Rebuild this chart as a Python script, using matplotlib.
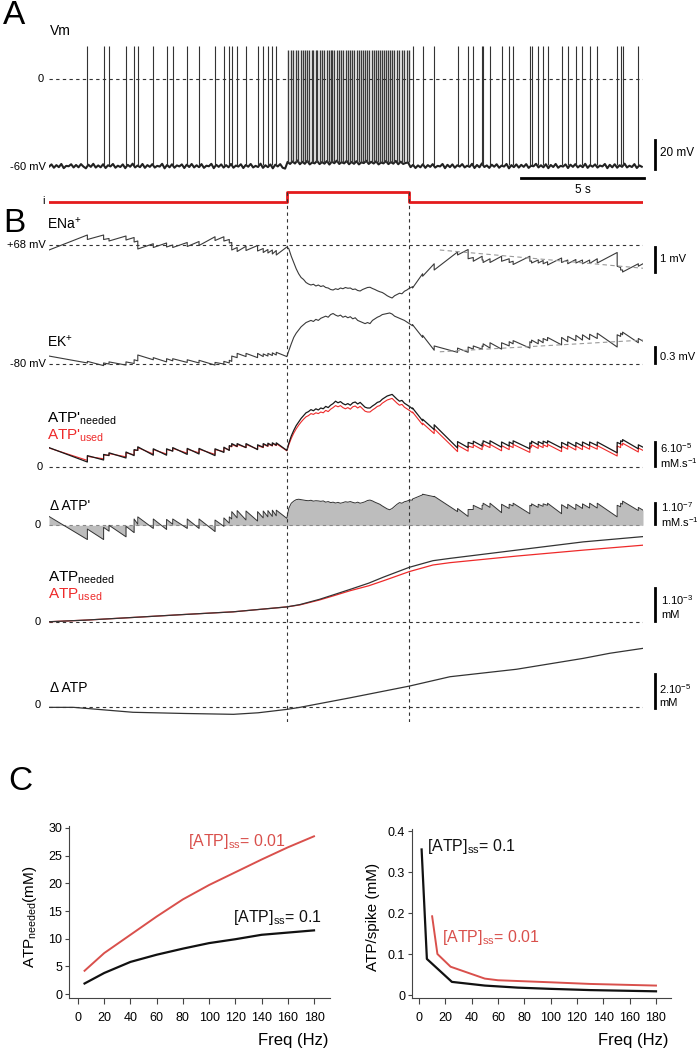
import numpy as np
import matplotlib.pyplot as plt

plt.rcParams['font.family'] = ['Liberation Sans', 'DejaVu Sans']
plt.rcParams['mathtext.fontset'] = 'custom'
plt.rcParams['mathtext.rm'] = 'Liberation Sans'
plt.rcParams['mathtext.it'] = 'Liberation Sans:italic'
plt.rcParams['mathtext.bf'] = 'Liberation Sans:bold'
plt.rcParams['axes.unicode_minus'] = False

# ---------------- data (time in s) ----------------
t_end = 24.15
stim_t = [0, 9.67, 9.67, 14.65, 14.65, 24.15]
stim_i = [0, 0, 1, 1, 0, 0]

# Vm baseline, one sample every 0.1 s (mV)
vm_dt = 0.1
vm_base = [
    -60.5, -58.9, -61.2, -59.4, -60.8, -58.6, -61.5, -59.9, -60.2, -58.8, -61.0, -59.3, -60.9, -58.7, -60.4, -61.6, -59.1, -60.6, -58.5, -61.1,
    -59.6, -60.9, -58.8, -61.4, -59.5, -60.3, -58.6, -61.2, -59.8, -60.7, -58.9, -61.5, -59.2, -60.5, -58.4, -61.0, -59.7, -60.8, -58.6, -61.3,
    -59.4, -60.6, -58.7, -61.1, -59.9, -60.4, -58.5, -61.6, -59.3, -60.9, -58.8, -61.2, -59.6, -60.3, -58.9, -61.4, -59.1, -60.7, -58.6, -61.0,
    -59.5, -60.8, -58.7, -61.3, -59.8, -60.2, -58.5, -61.5, -59.2, -60.6, -58.9, -61.1, -59.4, -60.9, -58.6, -61.2, -59.7, -60.4, -58.8, -61.4,
    -59.3, -60.5, -58.6, -61.0, -59.9, -60.7, -58.4, -61.3, -59.5, -60.8, -58.9, -61.6, -59.1, -60.3, -58.7, -61.2, -61.8, -57.2, -58.6, -56.9,
    -58.3, -56.2, -58.8, -57.1, -58.5, -56.4, -58.9, -57.6, -58.2, -56.5, -58.7, -57.3, -58.4, -56.6, -59.0, -57.0, -58.1, -56.3, -58.6, -57.4,
    -58.2, -56.5, -58.8, -57.2, -58.5, -56.7, -58.9, -57.5, -58.0, -56.4, -58.6, -57.1, -58.3, -56.8, -58.9, -57.6, -58.2, -56.6, -58.7, -57.3,
    -58.4, -56.5, -58.8, -57.0, -58.6, -57.9, -57.6, -60.8, -59.2, -61.4, -59.6, -60.9, -58.8, -61.3, -59.4, -60.6, -58.7, -61.1, -59.9, -60.3,
    -58.6, -61.5, -59.2, -60.8, -58.9, -61.2, -59.5, -60.4, -58.7, -61.0, -59.8, -60.6, -58.5, -61.4, -59.3, -60.9, -58.2, -60.7, -59.6, -61.3,
    -59.1, -60.5, -58.8, -61.2, -59.7, -60.4, -58.6, -61.6, -59.4, -60.8, -58.9, -61.1, -59.2, -60.6, -58.7, -61.3, -59.8, -60.2, -58.5, -61.0,
    -59.5, -60.9, -58.8, -61.5, -59.3, -60.7, -58.6, -61.2, -59.9, -60.4, -58.9, -61.4, -59.1, -60.6, -58.7, -61.0, -59.6, -60.8, -58.5, -61.3,
    -59.4, -60.5, -58.9, -61.1, -59.7, -60.3, -58.6, -61.5, -59.2, -60.9, -58.8, -61.2, -59.5, -60.6, -58.4, -61.0, -59.8, -60.7, -58.7, -61.4,
    -59.6, -60.5,
]

pre_spk_t = [1.56, 2.22, 2.44, 3.13, 3.46, 3.61, 4.24, 4.78, 5.03, 5.62, 6.10, 6.75, 7.11, 7.33, 7.43,
             7.65, 8.01, 8.48, 8.71, 8.90, 9.08, 9.24]
step_spk_t = [9.73, 9.84, 9.93, 10.03, 10.13, 10.23, 10.31, 10.41, 10.50, 10.58, 10.68, 10.74, 10.84, 10.91,
              11.02, 11.09, 11.19, 11.29, 11.38, 11.45, 11.52, 11.60, 11.69, 11.78, 11.87, 11.96, 12.06, 12.15,
              12.24, 12.32, 12.40, 12.51, 12.59, 12.67, 12.76, 12.85, 12.94, 13.02, 13.12, 13.20, 13.29, 13.36,
              13.46, 13.52, 13.62, 13.70, 13.79, 13.86, 13.96, 14.04, 14.13, 14.24, 14.34, 14.43, 14.54, 14.65]
post_spk_t = [14.78, 15.19, 15.66, 16.61, 17.04, 17.25, 17.61, 17.65, 17.93, 18.40, 18.71, 18.87, 19.55, 19.62,
              19.89, 20.09, 20.27, 20.84, 21.09, 21.42, 21.69, 21.98, 22.29, 23.10, 23.24, 23.32, 23.96]
spike_peak_rest = 23.0
spike_peak_step = 20.0

step_t = [9.67, 9.75, 9.85, 9.95, 10.05, 10.15, 10.25, 10.35, 10.45, 10.55,
          10.65, 10.75, 10.85, 10.95, 11.05, 11.15, 11.25, 11.35, 11.45, 11.55,
          11.65, 11.75, 11.85, 11.95, 12.05, 12.15, 12.25, 12.35, 12.45, 12.55,
          12.65, 12.75, 12.85, 12.95, 13.05, 13.15, 13.25, 13.35, 13.45, 13.55,
          13.65, 13.75, 13.85, 13.95, 14.05, 14.15, 14.25, 14.35, 14.45, 14.55,
          14.65]

# ENa+ (mV)
ena_start = 67.80
ena_pre_b = [68.40, 68.40, 68.26, 68.36, 68.30, 68.16, 68.05, 68.08, 68.00, 68.10, 68.14,
             68.33, 68.33, 68.22, 68.10, 67.90, 67.95, 67.98, 67.86, 67.82, 67.80, 67.78]
ena_pre_a = [68.22, 68.22, 68.16, 68.20, 68.12, 67.84, 67.90, 67.92, 67.90, 67.94, 67.98,
             68.18, 68.16, 68.08, 67.80, 67.74, 67.78, 67.76, 67.70, 67.68, 67.64, 67.60]
ena_step = [67.92, 67.85, 67.55, 67.30, 67.05, 66.85, 66.70, 66.62, 66.50, 66.44,
            66.40, 66.43, 66.36, 66.40, 66.34, 66.37, 66.30, 66.28, 66.22, 66.20,
            66.25, 66.22, 66.28, 66.25, 66.30, 66.27, 66.28, 66.22, 66.24, 66.18,
            66.16, 66.22, 66.26, 66.30, 66.31, 66.26, 66.22, 66.17, 66.13, 66.10,
            66.04, 65.97, 65.92, 65.88, 65.97, 66.02, 66.07, 66.05, 66.15, 66.20,
            66.27]
ena_post_b = [66.33, 66.85, 67.25, 67.72, 67.82, 67.50, 67.55, 67.40, 67.45, 67.55, 67.45, 67.35, 67.55, 67.36,
              67.40, 67.38, 67.33, 67.48, 67.40, 67.42, 67.40, 67.40, 67.45, 67.70, 67.10, 67.00, 67.25]
ena_post_a = [66.28, 66.75, 67.00, 67.60, 67.45, 67.35, 67.40, 67.30, 67.30, 67.35, 67.30, 67.22, 67.35, 67.28,
              67.28, 67.25, 67.20, 67.30, 67.25, 67.28, 67.25, 67.26, 67.28, 67.15, 67.00, 66.92, 67.15]
ena_end = 67.25
ena_fit_t = [15.89, 24.15]
ena_fit_v = [67.80, 67.07]

# EK+ (mV)
ek_start = -79.85
ek_pre_b = [-79.98, -80.03, -80.00, -80.02, -79.99, -79.94, -79.92, -79.96, -79.94, -79.97, -79.98,
            -80.02, -80.00, -79.98, -79.95, -79.88, -79.86, -79.88, -79.86, -79.85, -79.84, -79.83]
ek_pre_a = [-79.95, -79.98, -79.96, -79.96, -79.92, -79.83, -79.88, -79.90, -79.90, -79.92, -79.93,
            -79.97, -79.95, -79.93, -79.85, -79.80, -79.80, -79.80, -79.81, -79.80, -79.79, -79.78]
ek_step = [-79.86, -79.75, -79.62, -79.50, -79.42, -79.36, -79.30, -79.26, -79.22, -79.20,
           -79.18, -79.20, -79.16, -79.18, -79.14, -79.12, -79.10, -79.12, -79.07, -79.05,
           -79.08, -79.10, -79.08, -79.12, -79.10, -79.13, -79.11, -79.15, -79.13, -79.18,
           -79.20, -79.22, -79.24, -79.22, -79.24, -79.18, -79.15, -79.12, -79.10, -79.07,
           -79.06, -79.05, -79.04, -79.06, -79.10, -79.12, -79.14, -79.16, -79.18, -79.21,
           -79.24]
ek_post_b = [-79.28, -79.50, -79.74, -79.78, -79.78, -79.72, -79.72, -79.67, -79.70, -79.72, -79.66, -79.62, -79.70,
             -79.60, -79.62, -79.60, -79.56, -79.64, -79.58, -79.56, -79.55, -79.54, -79.52, -79.68, -79.48, -79.45, -79.60]
ek_post_a = [-79.26, -79.46, -79.66, -79.70, -79.68, -79.66, -79.66, -79.62, -79.60, -79.60, -79.58, -79.56, -79.58,
             -79.55, -79.54, -79.52, -79.50, -79.50, -79.48, -79.46, -79.45, -79.44, -79.42, -79.45, -79.42, -79.40, -79.52]
ek_end = -79.57
ek_fit_t = [15.89, 24.15]
ek_fit_v = [-79.77, -79.55]

# ATP' needed / used (1e-5 mM/s)
atpn_start = 4.9
atpn_pre_b = [1.3, 1.8, 2.9, 2.3, 2.9, 4.2, 3.0, 3.0, 4.0, 3.2, 3.3, 2.9, 3.7, 4.2, 5.2, 5.2, 4.9, 4.4, 5.0, 5.3, 5.4, 5.5]
atpn_pre_a = [2.9, 3.2, 3.6, 3.8, 4.4, 5.1, 4.6, 4.6, 4.9, 4.7, 4.7, 4.6, 5.0, 5.4, 5.9, 5.9, 5.9, 5.6, 5.9, 6.0, 6.1, 6.1]
atpn_step = [4.2, 6.0, 7.8, 9.2, 10.4, 11.3, 12.2, 12.9, 13.6, 13.9,
             14.4, 14.1, 14.6, 14.3, 14.8, 14.6, 15.2, 14.9, 15.5, 15.9,
             16.5, 16.1, 16.4, 15.9, 15.6, 15.9, 15.5, 16.1, 16.3, 15.8,
             16.2, 15.6, 15.0, 14.8, 14.8, 15.3, 15.7, 16.2, 16.4, 17.0,
             17.4, 17.8, 18.0, 18.2, 17.6, 17.0, 16.5, 16.7, 16.0, 15.6,
             15.2]
atpn_post_b = [14.6, 11.6, 9.4, 4.8, 4.9, 5.8, 5.3, 6.0, 5.8, 5.0, 5.3, 5.8, 4.6, 5.9, 5.6, 5.8, 6.0, 4.8, 5.4,
               5.2, 5.3, 5.4, 5.4, 3.6, 5.8, 6.4, 4.6]
atpn_post_a = [14.8, 12.0, 10.6, 6.4, 6.2, 6.5, 6.0, 6.6, 6.6, 6.3, 6.3, 6.6, 6.1, 6.5, 6.4, 6.5, 6.6, 6.2, 6.3,
               6.2, 6.3, 6.3, 6.3, 6.2, 6.6, 6.9, 5.6]
atpn_end = 5.0

atpu_start = 4.8
atpu_pre_b = [1.7, 2.1, 3.0, 2.6, 3.1, 4.2, 3.3, 3.3, 4.1, 3.5, 3.6, 3.2, 3.9, 4.3, 5.1, 5.1, 4.9, 4.5, 4.9, 5.2, 5.3, 5.4]
atpu_pre_a = [2.7, 3.0, 3.4, 3.6, 4.2, 4.9, 4.4, 4.4, 4.7, 4.5, 4.5, 4.4, 4.8, 5.2, 5.7, 5.7, 5.7, 5.4, 5.7, 5.8, 5.9, 5.9]
atpu_step = [4.1, 5.6, 7.2, 8.5, 9.6, 10.5, 11.3, 12.0, 12.6, 12.9,
             13.4, 13.2, 13.6, 13.4, 13.8, 13.6, 14.2, 13.9, 14.5, 14.9,
             15.4, 15.1, 15.4, 14.9, 14.6, 14.9, 14.5, 15.1, 15.3, 14.8,
             15.2, 14.6, 14.0, 13.8, 13.8, 14.3, 14.7, 15.2, 15.4, 16.0,
             16.4, 16.8, 17.0, 17.2, 16.6, 16.0, 15.5, 15.7, 15.0, 14.6,
             14.2]
atpu_post_b = [13.6, 10.6, 8.4, 3.9, 4.0, 4.9, 4.4, 5.1, 4.9, 4.1, 4.4, 4.9, 3.7, 5.0, 4.7, 4.9, 5.1, 3.9, 4.5,
               4.3, 4.4, 4.5, 4.5, 2.8, 4.9, 5.5, 3.8]
atpu_post_a = [13.8, 11.0, 9.6, 5.5, 5.3, 5.6, 5.1, 5.7, 5.7, 5.4, 5.4, 5.7, 5.2, 5.6, 5.5, 5.6, 5.7, 5.3, 5.4,
               5.3, 5.4, 5.4, 5.4, 5.3, 5.7, 6.0, 4.8]
atpu_end = 4.2

# delta ATP' (1e-7 mM/s)
datp_start = 0.42
datp_pre_b = [-0.68, -0.68, -0.28, -0.55, -0.35, 0.05, -0.15, -0.20, 0.05, -0.15, -0.15, -0.30, -0.05, 0.10,
              0.30, 0.35, 0.25, 0.20, 0.35, 0.40, 0.42, 0.45]
datp_pre_a = [-0.18, -0.10, 0.00, -0.05, 0.30, 0.40, 0.30, 0.28, 0.30, 0.30, 0.30, 0.25, 0.35, 0.40,
              0.65, 0.70, 0.68, 0.65, 0.68, 0.70, 0.72, 0.72]
datp_step = [0.33, 0.81, 1.05, 1.15, 1.22, 1.24, 1.22, 1.20, 1.18, 1.17,
             1.19, 1.15, 1.17, 1.16, 1.14, 1.16, 1.10, 1.13, 1.08, 1.10,
             1.06, 1.09, 1.05, 1.08, 1.12, 1.10, 1.13, 1.09, 1.06, 1.10,
             1.05, 1.08, 1.12, 1.18, 1.20, 1.16, 1.10, 1.05, 1.00, 0.92,
             0.85, 0.78, 0.74, 0.80, 0.90, 1.00, 1.08, 1.05, 1.12, 1.15,
             1.20]
datp_post_b = [1.20, 1.45, 1.36, 0.65, 0.42, 0.75, 0.75, 0.95, 0.85, 0.60, 0.80, 0.92, 0.55, 0.92, 0.85, 0.90,
               0.95, 0.55, 0.80, 0.75, 0.80, 0.82, 0.82, 0.40, 0.88, 1.00, 0.70]
datp_post_a = [1.25, 1.48, 1.38, 0.80, 0.75, 0.95, 0.95, 1.05, 1.05, 1.00, 1.00, 1.05, 0.95, 1.02, 1.00, 1.02,
               1.05, 0.98, 1.00, 1.00, 1.02, 1.05, 1.05, 0.95, 1.05, 1.15, 0.85]
datp_end = 0.72

# cumulative ATP (1e-3 mM)
atp_t = [0, 1.5, 3.41, 5.5, 7.48, 9.67, 10.2, 11.0, 11.54, 12.24, 13.0, 13.59, 14.65, 15.61, 16.3, 19.01, 21.72, 24.15]
atp_needed = [0, 0.05, 0.13, 0.22, 0.30, 0.45, 0.52, 0.68, 0.81, 0.98, 1.17, 1.35, 1.65, 1.85, 1.92, 2.17, 2.42, 2.58]
atp_used = [0, 0.05, 0.13, 0.22, 0.30, 0.45, 0.51, 0.66, 0.78, 0.94, 1.09, 1.24, 1.52, 1.72, 1.79, 1.99, 2.17, 2.32]

# delta ATP (1e-5 mM)
datp_cum_t = [0, 1.0, 3.41, 5.5, 7.5, 8.5, 9.67, 10.2, 12.24, 14.65, 16.3, 19.01, 21.72, 22.8, 24.15]
datp_cum = [0, 0, -0.29, -0.36, -0.41, -0.32, -0.12, 0.0, 0.56, 1.25, 1.80, 2.24, 2.88, 3.18, 3.47]

# panel C
freq_needed = [5, 20, 40, 60, 80, 100, 120, 140, 160, 180]
needed_ss001 = [4.2, 7.4, 10.7, 14.0, 17.1, 19.7, 22.0, 24.3, 26.5, 28.5]
needed_ss01 = [1.9, 3.8, 5.8, 7.1, 8.2, 9.2, 9.9, 10.7, 11.1, 11.5]
freq_spike_ss01 = [2, 6, 25, 50, 75, 100, 130, 180]
spike_ss01 = [0.355, 0.088, 0.032, 0.023, 0.018, 0.015, 0.012, 0.009]
freq_spike_ss001 = [10, 14, 24, 50, 60, 100, 130, 180]
spike_ss001 = [0.192, 0.100, 0.069, 0.040, 0.036, 0.031, 0.027, 0.023]

# ---------------- figure ----------------
W, H = 698, 1050
fig = plt.figure(figsize=(W / 100, H / 100), dpi=100)

RED = '#ee2a2a'
DASH = (0, (3, 3))


def axes_px(x0, y0, x1, y1):
    ax = fig.add_axes([x0 / W, 1 - y1 / H, (x1 - x0) / W, (y1 - y0) / H])
    ax.set_facecolor('none')
    return ax


def label(x, y, s, size=8, ha='left', color='black', **kw):
    fig.text(x / W, 1 - y / H, s, fontsize=size, ha=ha, va='center', color=color, **kw)


def trace(start, pre_b, pre_a, step_v, post_b, post_a, end):
    t, v = [0.0], [start]
    for ts, b, a in zip(pre_spk_t, pre_b, pre_a):
        t += [ts, ts]
        v += [b, a]
    t += step_t
    v += step_v
    for ts, b, a in zip(post_spk_t, post_b, post_a):
        t += [ts, ts]
        v += [b, a]
    t.append(t_end)
    v.append(end)
    return t, v


def trace_axes(y0, y1, lo, hi):
    ax = axes_px(49, y0, 643, y1)
    ax.set_xlim(0, t_end)
    ax.set_ylim(lo, hi)
    ax.axis('off')
    return ax


t_bar = 24.63
t_txt = 24.85

# ---- A: Vm ----
axA = trace_axes(25, 185, -73.1, 37.2)
vm_t = np.arange(len(vm_base)) * vm_dt
axA.plot(vm_t, vm_base, color='#222222', lw=1.5)
axA.vlines(pre_spk_t + post_spk_t, -59, spike_peak_rest, color='#333333', lw=0.8)
axA.vlines(step_spk_t, -57, spike_peak_step, color='#3a3a3a', lw=1.0)
axA.axhline(0, color='#333333', lw=0.8, ls=DASH)
axA.plot([19.2, 24.2], [-68.3, -68.3], color='black', lw=2, clip_on=False)
axA.plot([t_bar, t_bar], [-62, -42], color='black', lw=2, clip_on=False)
axA.text(21.7, -76.5, '5 s', fontsize=8.5, ha='center', va='center', clip_on=False)
axA.text(t_txt, -51, '20 mV', fontsize=8.5, va='center', clip_on=False)

# stimulus
axI = trace_axes(186, 206, -0.43, 1.57)
axI.plot(stim_t, stim_i, color='#e41a1c', lw=2)

# ENa
axNa = trace_axes(215, 305, 65.6, 69.2)
axNa.axhline(68, color='#333333', lw=0.8, ls=DASH)
t, v = trace(ena_start, ena_pre_b, ena_pre_a, ena_step, ena_post_b, ena_post_a, ena_end)
axNa.plot(t, v, color='#3a3a3a', lw=0.8)
axNa.plot(ena_fit_t, ena_fit_v, color='#999999', lw=0.8, ls=(0, (4, 3)))
axNa.plot([t_bar, t_bar], [66.93, 67.93], color='black', lw=2, clip_on=False)
axNa.text(t_txt, 67.43, '1 mV', fontsize=8, va='center', clip_on=False)

# EK
axK = trace_axes(305, 372, -80.15, -78.89)
axK.axhline(-80, color='#333333', lw=0.8, ls=DASH)
t, v = trace(ek_start, ek_pre_b, ek_pre_a, ek_step, ek_post_b, ek_post_a, ek_end)
axK.plot(t, v, color='#3a3a3a', lw=0.8)
axK.plot(ek_fit_t, ek_fit_v, color='#999999', lw=0.8, ls=(0, (4, 3)))
axK.plot([t_bar, t_bar], [-79.98, -79.68], color='black', lw=2, clip_on=False)
axK.text(t_txt, -79.86, '0.3 mV', fontsize=8, va='center', clip_on=False)

# ATP'
axP = trace_axes(380, 472, -1.2, 21.8)
axP.axhline(0, color='#333333', lw=0.8, ls=DASH)
t, v = trace(atpu_start, atpu_pre_b, atpu_pre_a, atpu_step, atpu_post_b, atpu_post_a, atpu_end)
axP.plot(t, v, color=RED, lw=0.8)
t, v = trace(atpn_start, atpn_pre_b, atpn_pre_a, atpn_step, atpn_post_b, atpn_post_a, atpn_end)
axP.plot(t, v, color='#1a1a1a', lw=0.9)
axP.plot([t_bar, t_bar], [0.3, 6.3], color='black', lw=2, clip_on=False)

# delta ATP'
axD = trace_axes(490, 545, -0.94, 1.68)
t, v = trace(datp_start, datp_pre_b, datp_pre_a, datp_step, datp_post_b, datp_post_a, datp_end)
axD.fill_between(t, v, 0, color='#bdbdbd', lw=0)
axD.axhline(0, color='#888888', lw=0.8, ls=DASH)
axD.plot(t, v, color='#333333', lw=0.7)
axD.plot([t_end, t_end], [datp_end, 0], color='#333333', lw=0.7)
axD.plot([t_bar, t_bar], [0.06, 1.06], color='black', lw=2, clip_on=False)

# ATP cumulative
axC = trace_axes(530, 630, -0.25, 2.78)
axC.axhline(0, color='#333333', lw=0.8, ls=DASH)
axC.plot(atp_t, atp_used, color=RED, lw=0.9)
axC.plot(atp_t, atp_needed, color='#333333', lw=0.9)
axC.plot([t_bar, t_bar], [0.02, 1.02], color='black', lw=2, clip_on=False)

# delta ATP cumulative
axE = trace_axes(640, 715, -0.45, 3.96)
axE.axhline(0, color='#333333', lw=0.8, ls=DASH)
axE.plot(datp_cum_t, datp_cum, color='#333333', lw=0.9)
axE.plot([t_bar, t_bar], [-0.04, 1.96], color='black', lw=2, clip_on=False)

# vertical dashed lines at stimulus on/off
axV = trace_axes(192, 722, 0, 1)
axV.axvline(stim_t[1], color='#333333', lw=0.8, ls=DASH)
axV.axvline(stim_t[3], color='#333333', lw=0.8, ls=DASH)

# ---- labels A/B ----
label(3, 15, 'A', size=24)
label(50, 31, 'Vm', size=10)
label(44, 79, '0', ha='right')
label(46, 167, '-60 mV', ha='right')
label(42, 201, 'i')
label(3, 223, 'B', size=24)
label(47, 224, r'ENa$^{+}$', size=10)
label(46, 245, '+68 mV', ha='right')
label(47, 342, r'EK$^{+}$', size=10)
label(46, 364, '-80 mV', ha='right')
label(47, 419, r"ATP'$_{\mathrm{needed}}$", size=11)
label(47, 436, r"ATP'$_{\mathrm{used}}$", size=11, color=RED)
label(43, 467, '0', ha='right')
label(660, 448, r'6.10$^{-5}$')
label(660, 463, r'mM.s$^{-1}$')
label(50, 506, "Δ ATP'", size=10)
label(41, 525, '0', ha='right')
label(661, 507, r'1.10$^{-7}$')
label(661, 522, r'mM.s$^{-1}$')
label(48, 578, r'ATP$_{\mathrm{needed}}$', size=11)
label(48, 595, r'ATP$_{\mathrm{used}}$', size=11, color=RED)
label(41, 622, '0', ha='right')
label(661, 600, r'1.10$^{-3}$')
label(661, 615, 'mM')
label(50, 688, 'Δ ATP', size=10)
label(41, 705, '0', ha='right')
label(659, 689, r'2.10$^{-5}$')
label(659, 703, 'mM')
label(8, 782, 'C', size=24)

# ---- C ----
axL = axes_px(69, 826, 330, 998)
axL.plot(freq_needed, needed_ss01, color='#111111', lw=1.6)
axL.plot(freq_needed, needed_ss001, color='#d9504c', lw=1.4)
axL.set_xlim(-6.86, 192.2)
axL.set_ylim(-0.72, 30.36)
axL.set_xticks(range(0, 181, 20))
axL.set_yticks(range(0, 31, 5))
axL.text(84, 27.5, r'[ATP]$_{\mathrm{ss}}$= 0.01', color='#d9504c', fontsize=11.5, va='center')
axL.text(118, 13.9, r'[ATP]$_{\mathrm{ss}}$= 0.1', color='#111111', fontsize=11.5, va='center')

axR = axes_px(412, 829, 671, 998)
axR.plot(freq_spike_ss01, spike_ss01, color='#111111', lw=1.6)
axR.plot(freq_spike_ss001, spike_ss001, color='#d9504c', lw=1.4)
axR.set_xlim(-5.3, 191.4)
axR.set_ylim(-0.0073, 0.4049)
axR.set_xticks(range(0, 181, 20))
axR.set_yticks([0, 0.1, 0.2, 0.3, 0.4])
axR.set_yticklabels(['0', '0.1', '0.2', '0.3', '0.4'])
axR.text(6, 0.361, r'[ATP]$_{\mathrm{ss}}$= 0.1', color='#111111', fontsize=11.5, va='center')
axR.text(17.5, 0.141, r'[ATP]$_{\mathrm{ss}}$= 0.01', color='#d9504c', fontsize=11.5, va='center')

for ax in (axL, axR):
    for s in ('top', 'right'):
        ax.spines[s].set_visible(False)
    for s in ('left', 'bottom'):
        ax.spines[s].set_color('#444444')
        ax.spines[s].set_linewidth(0.8)
    ax.tick_params(direction='out', length=3, width=0.8, color='#444444', labelsize=9, pad=2)
    ax.tick_params(axis='x', length=4, pad=6)

fig.text(30 / W, 1 - 917 / H, r'ATP$_{\mathrm{needed}}$(mM)', rotation=90, fontsize=11,
         ha='center', va='center')
fig.text(373 / W, 1 - 917 / H, 'ATP/spike (mM)', rotation=90, fontsize=11,
         ha='center', va='center')
label(328, 1040, 'Freq (Hz)', size=12, ha='right')
label(668, 1040, 'Freq (Hz)', size=12, ha='right')

fig.savefig('out.png', dpi=100)
